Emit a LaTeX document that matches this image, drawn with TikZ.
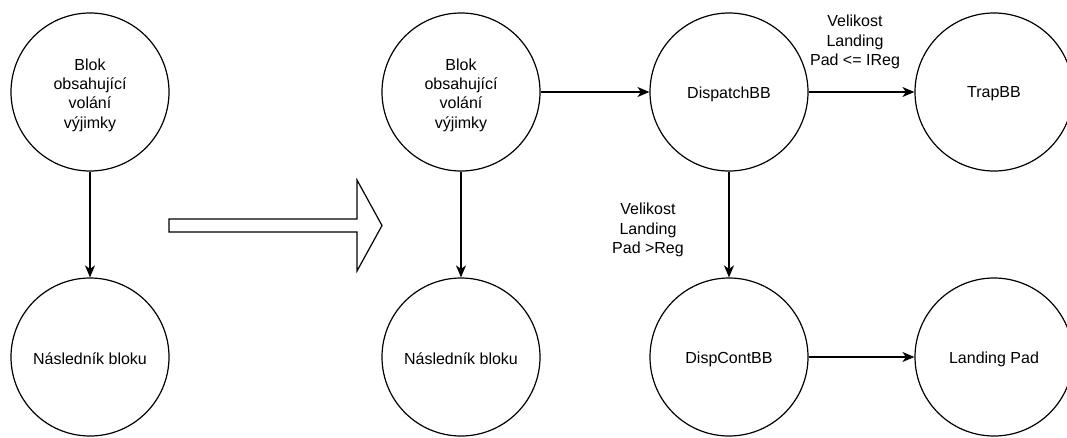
\documentclass[tikz,border=0pt]{standalone}
\usepackage{fontspec}
\setmainfont{Liberation Sans}
\usetikzlibrary{arrows.meta}
\begin{document}
\begin{tikzpicture}[x=1pt,y=-1pt,
  state/.style={circle,draw,line width=1.2pt,minimum size=158pt,inner sep=0pt},
  txt/.style={align=center,inner sep=0pt,yshift=-3pt,font=\fontsize{16}{19.4}\selectfont},
  lbl/.style={align=center,inner sep=0pt,font=\fontsize{16}{19.4}\selectfont},
  conn/.style={line width=1.2pt,-{Stealth[length=12pt,width=10pt,inset=3.5pt]}},
  bigarrow/.style={draw,line width=1.2pt,fill=white,line join=miter}]
\useasboundingbox (0,0) rectangle (1067,437);
\node[state,label={[txt]center:Blok\\obsahující\\volání\\výjimky}] (a1) at (90,92) {};
\node[state,label={[txt,yshift=1pt]center:Následník bloku}] (b1) at (90,357) {};
\node[state,label={[txt]center:Blok\\obsahující\\volání\\výjimky}] (a2) at (461,92) {};
\node[state,label={[txt,yshift=1pt]center:Následník bloku}] (b2) at (461,357) {};
\node[state,label={[txt,yshift=1pt]center:DispatchBB}] (disp) at (729,92) {};
\node[state,label={[txt,yshift=1pt]center:TrapBB}] (trap) at (994,92) {};
\node[state,label={[txt,yshift=1pt]center:DispContBB}] (cont) at (729,357) {};
\node[state,label={[txt,yshift=1pt]center:Landing Pad}] (land) at (994,357) {};
\draw[conn] (a1) -- (b1);
\draw[conn] (a2) -- (b2);
\draw[conn] (a2) -- (disp);
\draw[conn] (disp) -- (trap);
\draw[conn] (disp) -- (cont);
\draw[conn] (cont) -- (land);
\node[lbl] (l1) at (855,42) {Velikost\\Landing\\Pad <= IReg};
\node[lbl] (l2) at (648,230) {Velikost\\Landing\\Pad >Reg};
\draw[bigarrow] (169,219) -- (357,219) -- (357,180) -- (382,225.5) -- (357,271) -- (357,232) -- (169,232) -- cycle;
\end{tikzpicture}
\end{document}
